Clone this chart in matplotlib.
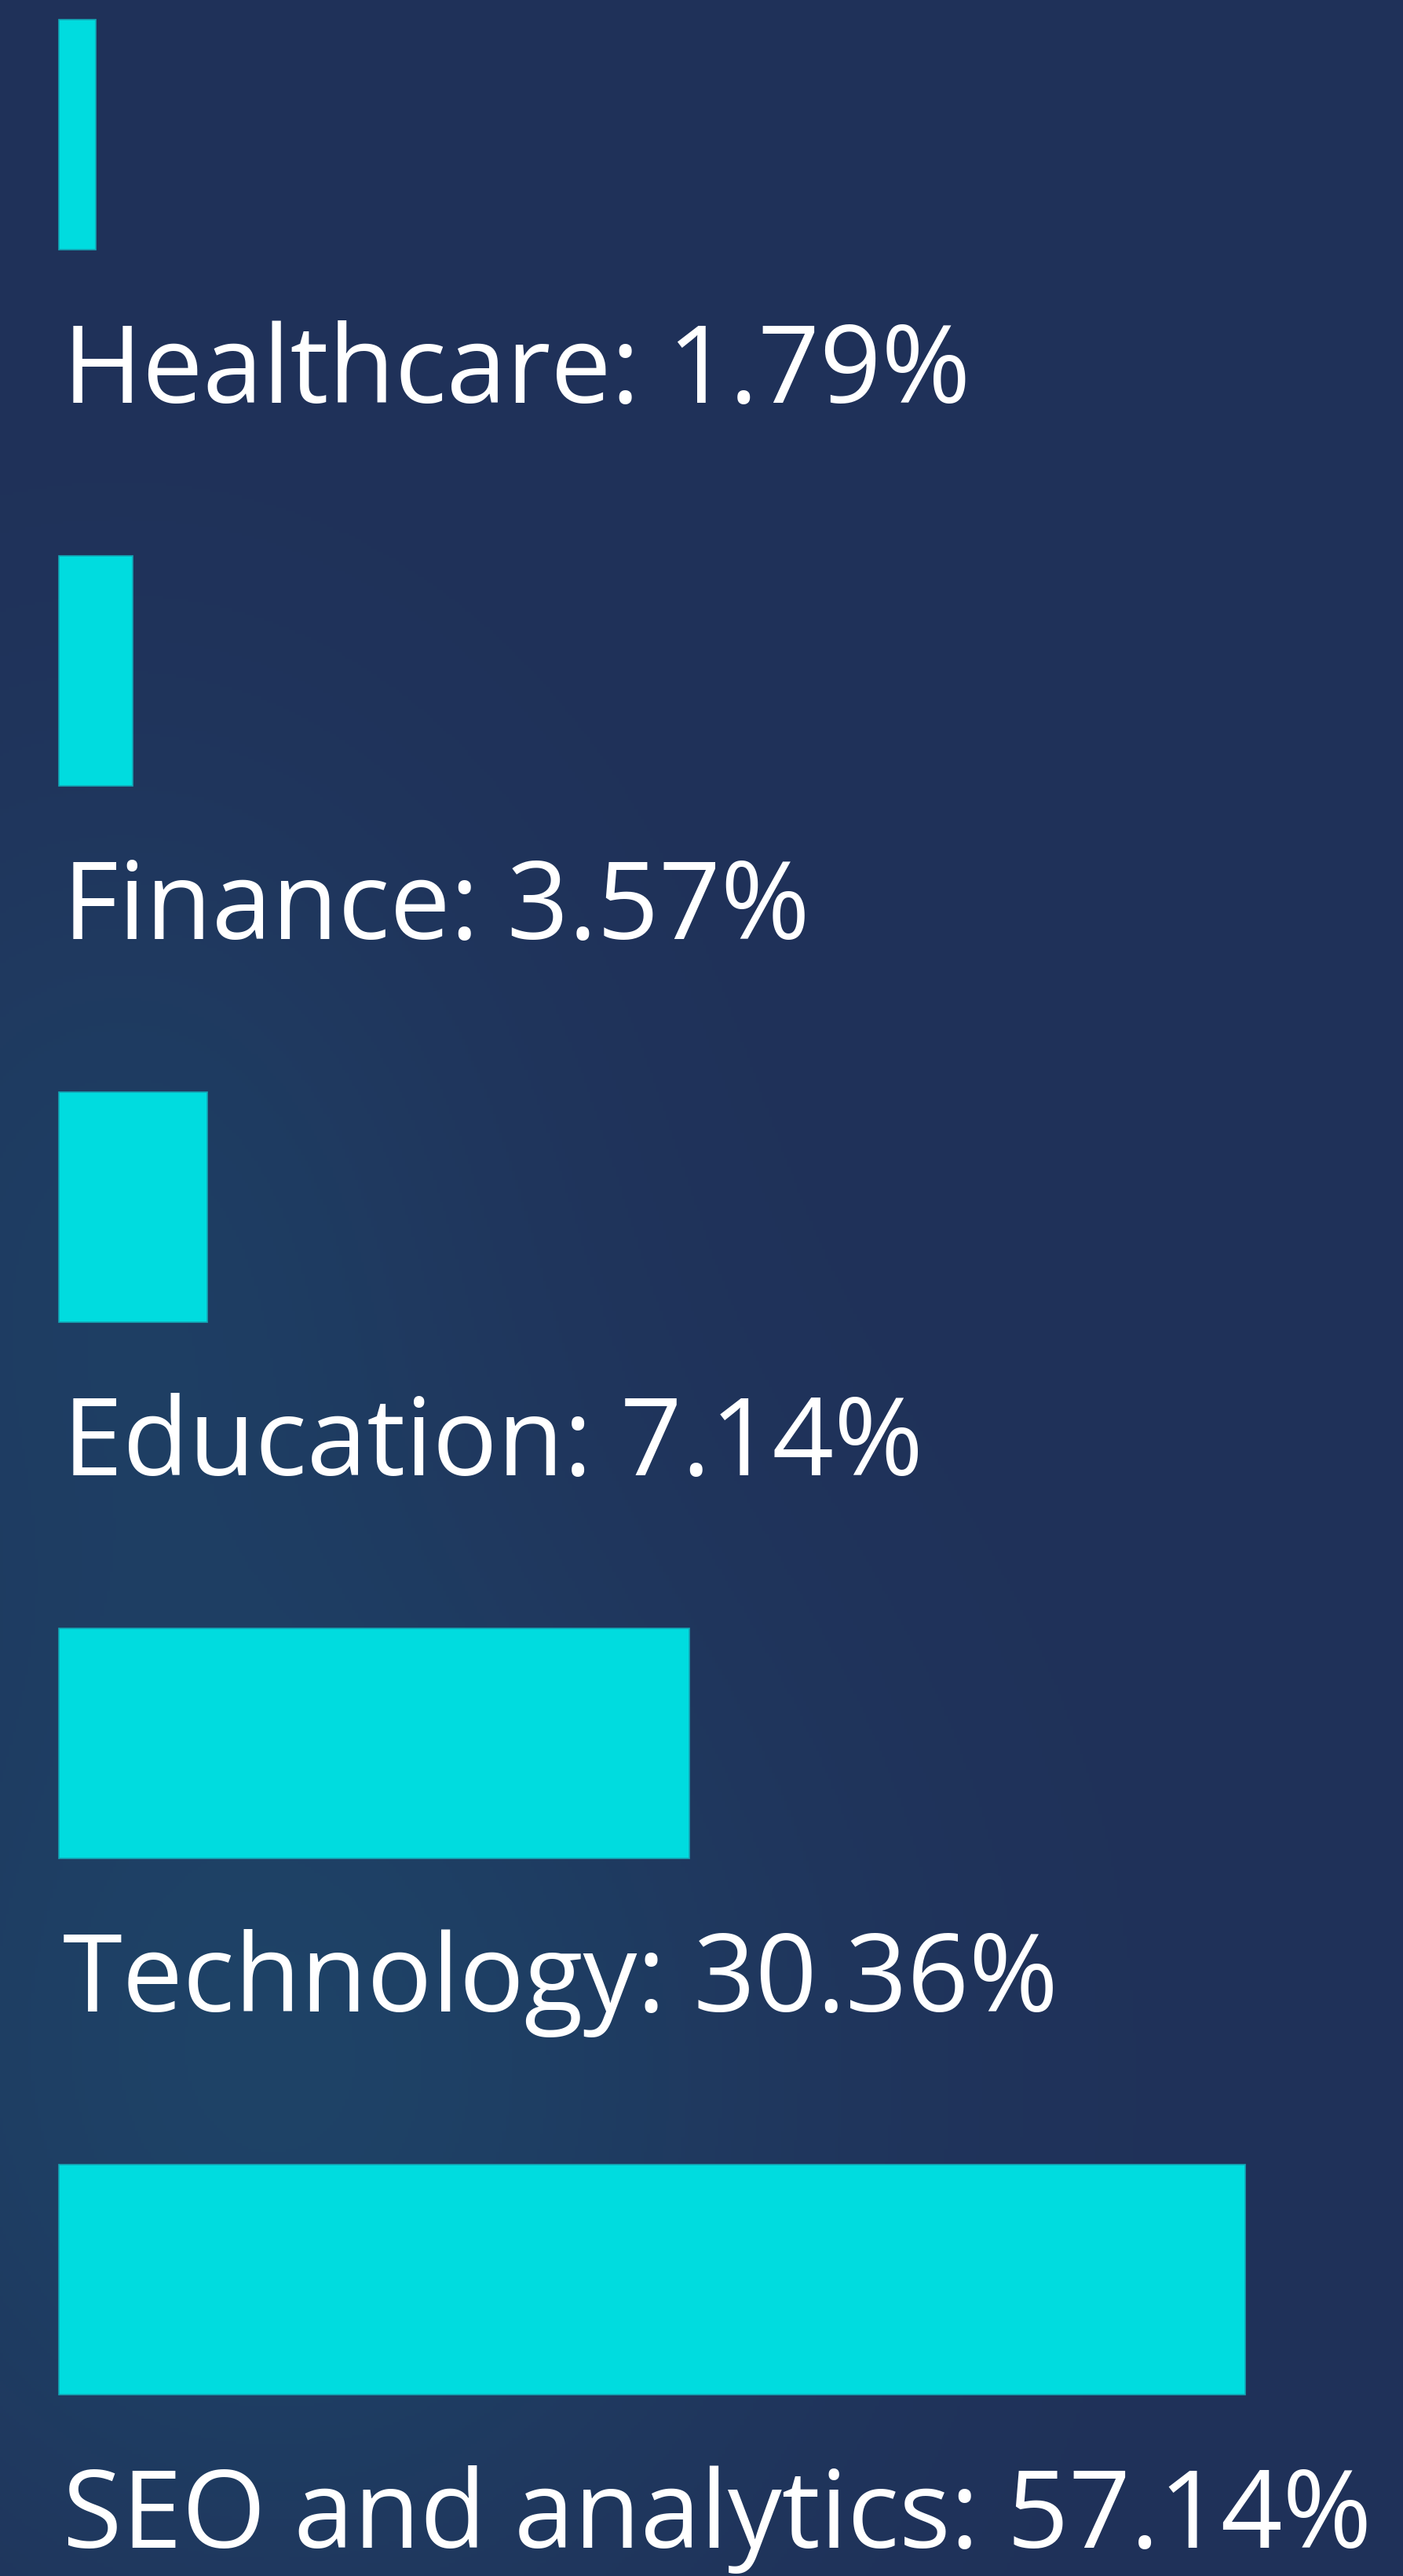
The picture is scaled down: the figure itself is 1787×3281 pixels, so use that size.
import numpy as np
import matplotlib.pyplot as plt

categories = ['Healthcare', 'Finance', 'Education', 'Technology', 'SEO and analytics']
shares = [1.79, 3.57, 7.14, 30.36, 57.14]

bar_color = '#00dcdf'
bg_color = '#20325a'

W, H = 1787, 3281
fig = plt.figure(figsize=(W / 100, H / 100), dpi=100)

# soft radial glow behind the bars
bg = fig.add_axes([0, 0, 1, 1])
bg.set_axis_off()
yy, xx = np.mgrid[0:H:4, 0:W:4]
base = np.array([0x20, 0x31, 0x59]) / 255
glow = np.array([0x1e, 0x44, 0x68]) / 255
w = (0.9 * np.exp(-(((xx - 350) / 650) ** 2 + ((yy - 2650) / 700) ** 2))
     + 0.6 * np.exp(-(((xx - 150) / 500) ** 2 + ((yy - 1550) / 600) ** 2)))
w = np.clip(w, 0, 1)[..., None]
img = base * (1 - w) + glow * w
bg.imshow(img, extent=[0, 1, 0, 1], aspect='auto', origin='upper')
bg.set_xlim(0, 1)
bg.set_ylim(0, 1)

ax = fig.add_axes([0, 0, 1, 1])
ax.patch.set_alpha(0)
ax.set_axis_off()

px = 26.44  # pixels per percent
ax.set_xlim(-75 / px, (W - 75) / px)
step = 683
ax.set_ylim(H / step - 171.5 / step, -171.5 / step)

y = np.arange(len(categories))
ax.barh(y, shares, height=293 / step, color=bar_color,
        edgecolor='#14a6b6', linewidth=1.2)

for i, (c, v) in enumerate(zip(categories, shares)):
    ax.text(5 / px, i + 0.50, f'{c}: {v:.2f}%', color='white',
            fontsize=99, family='Open Sans', va='baseline', ha='left')

fig.savefig('out.png', dpi=100, facecolor=bg_color)
